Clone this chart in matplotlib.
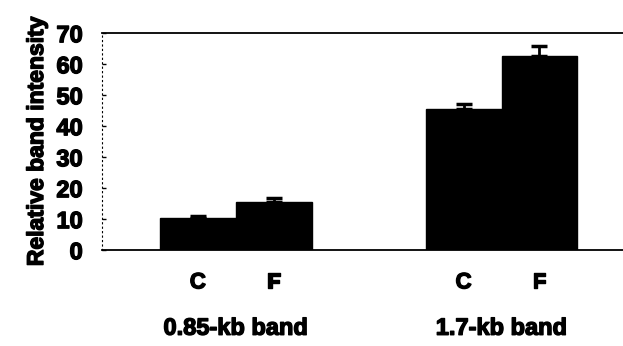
import matplotlib
matplotlib.use("Agg")
import matplotlib.pyplot as plt
import matplotlib.patheffects as pe

# values
groups = ["0.85-kb band", "1.7-kb band"]
conditions = ["C", "F", "C", "F"]
intensity = [10.5, 15.5, 45.5, 62.5]
errors = [0.4, 1.2, 1.8, 3.3]
positions = [0, 1, 3.5, 4.5]
yticks = [0, 10, 20, 30, 40, 50, 60, 70]

plt.rcParams["font.family"] = ["Liberation Sans", "DejaVu Sans"]
heavy = [pe.withStroke(linewidth=1.0, foreground="black")]

fig = plt.figure(figsize=(6.23, 3.46), dpi=100)
ax = fig.add_axes([0.164, 0.277, 0.836, 0.627])

ax.bar(positions, intensity, width=1.0, color="black", edgecolor="black",
       yerr=[[0] * 4, errors], error_kw=dict(ecolor="black", elinewidth=2,
                                            capsize=6, capthick=2.5))

ax.set_xlim(-1.26, 5.6)
ax.set_ylim(0, 70)
ax.set_yticks(yticks)
ax.set_yticklabels([str(t) for t in yticks], fontsize=17, fontweight="bold")
ax.tick_params(axis="y", direction="in", length=3, width=1, pad=14)
ax.set_ylabel("Relative band intensity", fontsize=16.5, fontweight="bold",
              labelpad=6)

ax.set_xticks(positions)
ax.set_xticklabels(conditions, fontsize=16, fontweight="bold")
ax.tick_params(axis="x", length=0, pad=16)

# group labels under the C/F pairs
for g, center in zip(groups, [0.5, 4.0]):
    ax.text(center, -0.36, g, transform=ax.get_xaxis_transform(),
            ha="center", va="center", fontsize=17, fontweight="bold",
            path_effects=heavy)

for lab in ax.get_yticklabels() + ax.get_xticklabels() + [ax.yaxis.label]:
    lab.set_path_effects(heavy)

ax.spines["right"].set_visible(False)
ax.spines["left"].set_linestyle((0, (1, 3)))
ax.spines["left"].set_linewidth(0.8)
ax.spines["top"].set_linewidth(1.3)
ax.spines["bottom"].set_linewidth(1.3)

fig.savefig("out.png", dpi=100)
